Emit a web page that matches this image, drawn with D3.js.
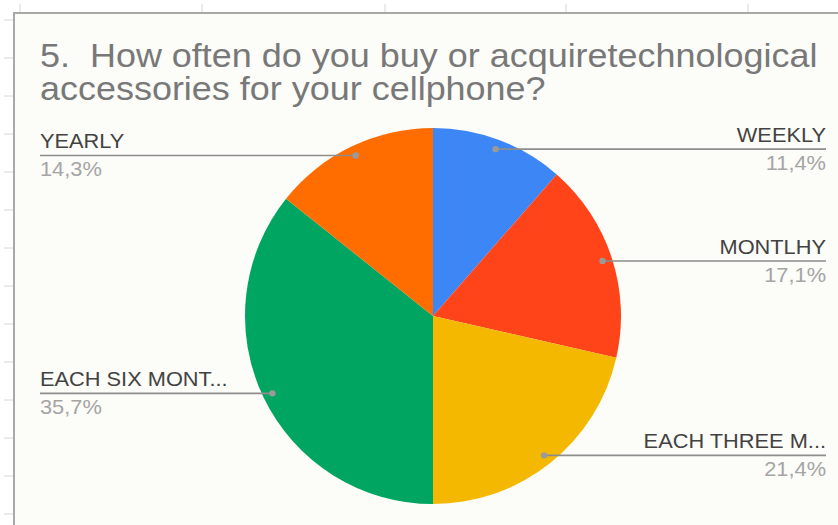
<!DOCTYPE html>
<html>
<head>
<meta charset="utf-8">
<script src="https://cdn.jsdelivr.net/npm/d3@7"></script>
<style>
  html, body { margin: 0; padding: 0; background: #ffffff; }
  svg { display: block; font-family: "Liberation Sans", Arial, sans-serif; }
  text { white-space: pre; }
</style>
</head>
<body>
<svg id="chart" width="838" height="525"></svg>
<script>
// Survey answers: how often accessories are bought (response counts)
const categories = ["WEEKLY", "MONTLHY", "EACH THREE M...", "EACH SIX MONT...", "YEARLY"];
const counts = [8, 12, 15, 25, 10];
const percentLabels = ["11,4%", "17,1%", "21,4%", "35,7%", "14,3%"];
const colors = ["#3d86f6", "#ff4419", "#f4b800", "#00a562", "#ff6d00"];
const titleLines = ["5.  How often do you buy or acquiretechnological", "accessories for your cellphone?"];

const W = 838, H = 525;
const stretch = 1.09; // text is drawn slightly wide
const svg = d3.select("#chart");

// Spreadsheet grid ticks peeking out around the chart frame
const gridX = [20, 202, 385, 566, 748];
const gridY = d3.range(20, 525, 38);
svg.append("g").selectAll("line").data(gridX).join("line")
  .attr("x1", d => d).attr("x2", d => d).attr("y1", 4).attr("y2", 13)
  .attr("stroke", "#d6d6d6").attr("stroke-width", 1);
svg.append("g").selectAll("line").data(gridY).join("line")
  .attr("x1", 4).attr("x2", 14).attr("y1", d => d).attr("y2", d => d)
  .attr("stroke", "#d6d6d6").attr("stroke-width", 1);

// Chart frame
svg.append("rect")
  .attr("x", 14).attr("y", 13).attr("width", W + 10).attr("height", H + 10)
  .attr("fill", "#fcfcf8").attr("stroke", "#a8a8a8").attr("stroke-width", 2);

// Title
svg.append("g")
  .attr("transform", `translate(40,67) scale(${stretch},1)`)
  .append("text")
  .attr("fill", "#787878").attr("font-size", 33)
  .selectAll("tspan").data(titleLines).join("tspan")
  .attr("x", 0).attr("dy", (d, i) => i === 0 ? 0 : 33)
  .text(d => d);

// Pie
const cx = 433, cy = 316, radius = 188;
const pie = d3.pie().sort(null).value(d => d)(counts);
const arc = d3.arc().innerRadius(0).outerRadius(radius);
const g = svg.append("g").attr("transform", `translate(${cx},${cy})`);
g.selectAll("path").data(pie).join("path")
  .attr("d", arc)
  .attr("fill", (d, i) => colors[i]);

// Callouts: dot inside the slice, horizontal leader to the label edge
const dotR = radius * 0.948;
const rightEdge = 826, leftEdge = 40;
const labels = svg.append("g");
pie.forEach((d, i) => {
  const a = (d.startAngle + d.endAngle) / 2;
  const px = cx + dotR * Math.sin(a);
  const py = cy - dotR * Math.cos(a);
  const right = px > cx;
  const ex = right ? rightEdge : leftEdge;
  labels.append("line")
    .attr("x1", px).attr("y1", py).attr("x2", ex).attr("y2", py)
    .attr("stroke", "#8d8d8d").attr("stroke-width", 1.6);
  labels.append("circle")
    .attr("cx", px).attr("cy", py).attr("r", 3.2)
    .attr("fill", "#9a9a9a");
  const t = labels.append("g")
    .attr("transform", `translate(${ex},${py}) scale(${stretch},1)`);
  t.append("text")
    .attr("y", -7)
    .attr("text-anchor", right ? "end" : "start")
    .attr("font-size", 20).attr("fill", "#424242")
    .text(categories[i]);
  t.append("text")
    .attr("y", 21)
    .attr("text-anchor", right ? "end" : "start")
    .attr("font-size", 20).attr("fill", "#a5a5a5")
    .text(percentLabels[i]);
});
</script>
</body>
</html>
